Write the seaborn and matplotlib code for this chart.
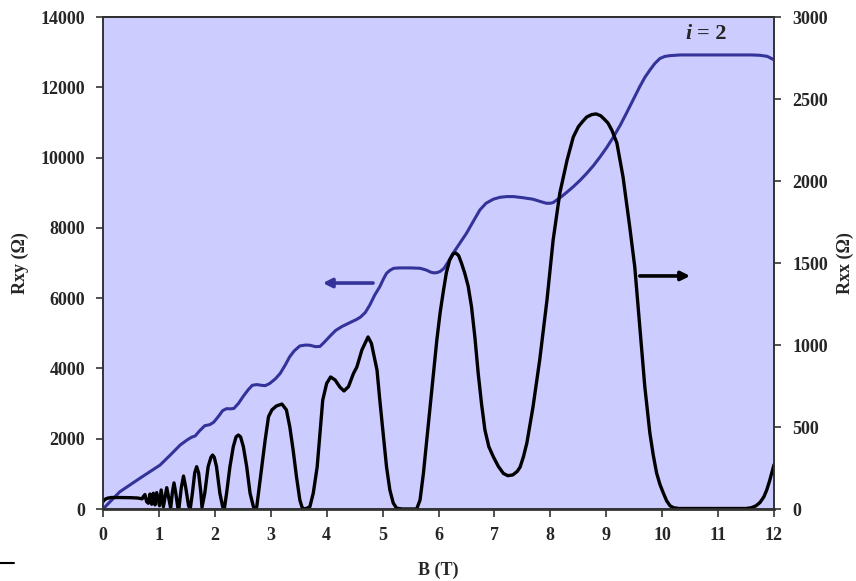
import matplotlib
matplotlib.use("Agg")
import matplotlib.pyplot as plt
import seaborn as sns
import pandas as pd
from matplotlib.lines import Line2D

# ---- data ----
B_xy = [0, 0.3, 0.66, 1.02, 1.2, 1.38, 1.5, 1.58, 1.65, 1.73, 1.82, 1.91, 1.98, 2.06, 2.14,
        2.21, 2.28, 2.34, 2.42, 2.51, 2.6, 2.67, 2.75, 2.83, 2.9, 2.98, 3.08, 3.17, 3.26, 3.34,
        3.42, 3.52, 3.62, 3.7, 3.8, 3.88, 3.96, 4.06, 4.16, 4.27, 4.36, 4.45, 4.53, 4.6, 4.69,
        4.77, 4.86, 4.95, 5.02, 5.07, 5.13, 5.2, 5.3, 5.5, 5.67, 5.78, 5.86, 5.91, 5.97, 6.03,
        6.1, 6.18, 6.26, 6.38, 6.5, 6.62, 6.74, 6.85, 6.98, 7.1, 7.22, 7.34, 7.5, 7.69, 7.82,
        7.93, 8.0, 8.05, 8.12, 8.2, 8.3, 8.41, 8.53, 8.65, 8.77, 8.89, 9.01, 9.13, 9.25, 9.36,
        9.48, 9.6, 9.69, 9.78, 9.87, 9.96, 10.05, 10.14, 10.32, 11.0, 11.6, 11.75, 11.88, 11.99]
Rxy = [0, 490, 875, 1250, 1530, 1820, 1960, 2040, 2080, 2230, 2370, 2400, 2470, 2625, 2800,
       2855, 2850, 2860, 3000, 3210, 3400, 3520, 3540, 3520, 3510, 3570, 3700, 3860, 4100, 4335,
       4500, 4640, 4665, 4660, 4620, 4625, 4750, 4920, 5080, 5190, 5260, 5330, 5390, 5455, 5590,
       5800, 6090, 6325, 6560, 6705, 6790, 6850, 6860, 6860, 6850, 6800, 6740, 6720, 6725, 6760,
       6850, 7050, 7275, 7560, 7845, 8180, 8510, 8700, 8815, 8870, 8890, 8890, 8860, 8815, 8750,
       8700, 8700, 8720, 8800, 8890, 9020, 9170, 9350, 9550, 9770, 10020, 10290, 10590, 10920, 11260,
       11640, 12020, 12280, 12490, 12680, 12820, 12880, 12900, 12920, 12920, 12920, 12910, 12880, 12790]

B_xx = [0, 0.03, 0.08, 0.15, 0.3, 0.5, 0.62, 0.7, 0.72, 0.75, 0.78, 0.81, 0.84, 0.87, 0.90,
        0.93, 0.96, 1.01, 1.04, 1.08, 1.14, 1.21, 1.24, 1.27, 1.30, 1.34, 1.36, 1.40, 1.44,
        1.48, 1.53, 1.56, 1.60, 1.64, 1.675, 1.71, 1.75, 1.77,
        1.82, 1.88, 1.93, 1.96, 1.99, 2.03, 2.09, 2.14, 2.17,
        2.21, 2.27, 2.33, 2.38, 2.42, 2.46, 2.51, 2.57, 2.63, 2.69, 2.72, 2.75,
        2.78, 2.84, 2.90, 2.96, 3.02, 3.1, 3.2, 3.28, 3.34, 3.4, 3.46, 3.52, 3.56, 3.6, 3.65,
        3.7, 3.76, 3.83, 3.88, 3.93, 4.0, 4.07, 4.15, 4.24, 4.31, 4.39, 4.48, 4.54, 4.63, 4.74,
        4.8, 4.9, 4.95, 5.01, 5.07, 5.13, 5.19, 5.25, 5.35, 5.5, 5.61, 5.67, 5.73, 5.79, 5.85,
        5.91, 5.97, 6.03, 6.09, 6.14, 6.2, 6.26, 6.31, 6.36, 6.41, 6.47, 6.53, 6.59, 6.65, 6.71,
        6.77, 6.83, 6.9, 6.98, 7.07, 7.16, 7.24, 7.33, 7.41, 7.46, 7.52, 7.58,
        7.69, 7.81, 7.94, 8.05, 8.17, 8.3, 8.41, 8.5, 8.57, 8.65, 8.74, 8.82, 8.9, 8.97, 9.03,
        9.1, 9.19, 9.3, 9.42, 9.51, 9.6, 9.69, 9.78, 9.84, 9.9, 9.96, 10.02, 10.08, 10.14, 10.2,
        10.3, 11.0, 11.5, 11.6, 11.68, 11.75, 11.82, 11.87, 11.92, 11.96, 12.0]
Rxx = [45, 58, 66, 70, 70, 69, 67, 62, 75, 88, 45, 35, 91, 29, 96,
       25, 100, 20, 116, 14, 130, 5, 100, 159, 100, 5, 10, 130, 201,
       130, 20, 0, 100, 220, 258, 220, 100, 10,
       96, 258, 315, 329, 315, 258, 96, 14, 2,
       96, 258, 380, 440, 451, 440, 380, 258, 96, 14, 0, 14,
       96, 258, 421, 563, 604, 628, 640, 604, 502, 360, 197, 55, 10, 0, 5,
       14, 96, 256, 463, 665, 766, 805, 787, 742, 720, 746, 827, 866, 970, 1049,
       1010, 848, 665, 463, 258, 116, 37, 5, 0, 0, 0, 55, 217, 420, 624,
       830, 1030, 1200, 1335, 1440, 1518, 1555, 1561, 1545, 1500, 1437, 1360, 1234, 1050, 827,
       640, 482, 380, 319, 260, 217, 203, 208, 230, 256, 320, 402,
       622, 909, 1274, 1640, 1927, 2128, 2268, 2330, 2360, 2390, 2405, 2409, 2398, 2375, 2354,
       2310, 2232, 2025, 1720, 1476, 1110, 744, 463, 330, 220, 150, 98, 50, 20, 8,
       3, 3, 3, 8, 20, 40, 75, 116, 170, 220, 270]

x_ticks = list(range(0, 13))
left_ticks = list(range(0, 14001, 2000))
right_ticks = list(range(0, 3001, 500))

# ---- styling ----
sns.set_style("white")
plt.rcParams["font.family"] = ["Liberation Serif", "DejaVu Serif"]
plt.rcParams["font.weight"] = "bold"

W, H = 856, 581
fig = plt.figure(figsize=(W / 100, H / 100), dpi=100)
ax = fig.add_axes([103 / W, 1 - 509 / H, (774 - 103) / W, (509 - 17) / H])
ax.set_facecolor("#CCCCFF")
ax2 = ax.twinx()
ax2.patch.set_visible(False)

df_xy = pd.DataFrame({"B": B_xy, "Rxy": Rxy})
df_xx = pd.DataFrame({"B": B_xx, "Rxx": Rxx})
sns.lineplot(data=df_xy, x="B", y="Rxy", ax=ax, color="#333399", lw=2.2, estimator=None)
sns.lineplot(data=df_xx, x="B", y="Rxx", ax=ax2, color="black", lw=2.4, estimator=None)
for a in (ax, ax2):
    for ln in a.get_lines():
        ln.set_solid_joinstyle("round")
        ln.set_solid_capstyle("round")

ax.set_xlim(0, 12)
ax.set_ylim(0, 14000)
ax2.set_ylim(0, 3000)
ax.set_xticks(x_ticks)
ax.set_yticks(left_ticks)
ax2.set_yticks(right_ticks)
ax.set_xlabel("")
ax.set_ylabel("")
ax2.set_ylabel("")

for a in (ax, ax2):
    for s in a.spines.values():
        s.set_color("#333333")
        s.set_linewidth(1.2)
        s.set_visible(True)
ax.spines["bottom"].set_linewidth(2.0)
ax.spines["top"].set_color("black")

ax.tick_params(axis="x", direction="out", length=6, width=1.2, color="#333333",
               pad=7, labelsize=13, bottom=True)
ax.tick_params(axis="y", direction="out", length=5, width=1.2, color="#333333",
               pad=8, labelsize=13, left=True)
ax2.tick_params(axis="y", direction="out", length=5, width=1.2, color="#333333",
                pad=8, labelsize=13, right=True)
for lab in ax.get_xticklabels() + ax.get_yticklabels() + ax2.get_yticklabels():
    lab.set_fontweight("bold")

# arrows
ax.annotate("", xy=(3.93, 6430), xytext=(4.83, 6430),
            arrowprops=dict(arrowstyle="-|>", color="#333399", lw=2.6, mutation_scale=13,
                            shrinkA=0, shrinkB=0))
ax2.annotate("", xy=(10.5, 1421), xytext=(9.6, 1421),
             arrowprops=dict(arrowstyle="-|>", color="black", lw=2.6, mutation_scale=13,
                             shrinkA=0, shrinkB=0))

# labels
fig.text(20 / W, 1 - 263 / H, "Rxy (Ω)", rotation=90, ha="center", va="center",
         fontsize=13, fontweight="bold")
fig.text(845 / W, 1 - 263 / H, "Rxx (Ω)", rotation=90, ha="center", va="center",
         fontsize=13, fontweight="bold")
fig.text(438 / W, 1 - 570 / H, "B (T)", ha="center", va="center", fontsize=13, fontweight="bold")
fig.text(688 / W, 1 - 34 / H, "i", ha="center", va="center", fontsize=16,
         fontweight="bold", style="italic")
fig.text(712 / W, 1 - 34 / H, "= 2", ha="center", va="center", fontsize=16, fontweight="bold")

fig.add_artist(Line2D([0, 14 / W], [1 - 563 / H, 1 - 563 / H], color="black", lw=1.5))

fig.savefig("out.png", dpi=100)
